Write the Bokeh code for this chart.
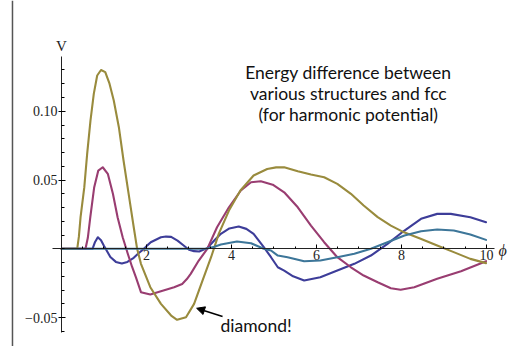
import numpy as np
from bokeh.plotting import figure
from bokeh.models import (LinearAxis, FixedTicker, Range1d, Label, Arrow, NormalHead, Span)
from bokeh.embed import file_html
from bokeh.resources import INLINE

# ---- data ----
blue_x = [0, 0.73, 0.79, 0.855, 0.93, 0.995, 1.15, 1.28, 1.42, 1.55, 1.7, 1.82, 1.94, 2.02, 2.10, 2.34,
          2.46, 2.58, 2.73, 2.86, 3.0, 3.12, 3.24, 3.43, 3.6, 3.75, 3.95, 4.17, 4.35, 4.52, 4.76, 4.93,
          5.09, 5.24, 5.45, 5.71, 6.09, 6.49, 6.89, 7.28, 7.67, 8.07, 8.46, 8.84, 9.16, 9.62, 9.99]
blue_y = [0, 0, 0.005, 0.0084, 0.0062, 0.0024, -0.006, -0.0095, -0.0107, -0.0095, -0.0065, -0.003, 0,
          0.0025, 0.0048, 0.0084, 0.0089, 0.0087, 0.006, 0.0028, -0.0007, -0.0017, -0.002, 0.0005, 0.0062,
          0.0109, 0.0148, 0.0162, 0.0145, 0.0109, 0.0012, -0.0061, -0.0134, -0.0158, -0.020, -0.023,
          -0.0206, -0.0158, -0.0109, -0.0049, 0.0036, 0.0133, 0.0218, 0.0254, 0.0254, 0.023, 0.0193]

magenta_x = [0, 0.565, 0.62, 0.678, 0.77, 0.866, 0.97, 1.09, 1.21, 1.32, 1.44, 1.56, 1.66, 1.75, 1.87,
             2.09, 2.34, 2.65, 2.84, 2.95, 3.04, 3.23, 3.43, 3.66, 3.94, 4.22, 4.46, 4.69, 4.97, 5.24,
             5.56, 5.87, 6.18, 6.49, 6.81, 7.11, 7.44, 7.75, 7.98, 8.30, 8.84, 9.40, 9.99]
magenta_y = [0, 0, 0.008, 0.023, 0.0448, 0.0569, 0.0593, 0.0545, 0.040, 0.023, 0.0084, -0.0036,
             -0.013, -0.0206, -0.0315, -0.0332, -0.0308, -0.0279, -0.0255, -0.022, -0.0182, -0.0085, 0,
             0.0157, 0.0302, 0.0424, 0.0484, 0.0491, 0.0466, 0.0411, 0.0302, 0.0169, 0.0048, -0.0061,
             -0.0134, -0.0194, -0.0243, -0.0286, -0.0298, -0.0279, -0.0218, -0.0163, -0.009]

olive_x = [0, 0.37, 0.41, 0.449, 0.537, 0.604, 0.682, 0.76, 0.84, 0.93, 1.03, 1.13, 1.23, 1.35, 1.46,
           1.58, 1.70, 1.78, 1.87, 2.09, 2.34, 2.58, 2.72, 2.93, 3.12, 3.32, 3.52, 3.70, 3.94, 4.21,
           4.52, 4.84, 5.05, 5.24, 5.56, 5.87, 6.18, 6.49, 6.81, 7.11, 7.44, 7.75, 8.06, 8.45, 8.84,
           9.23, 9.62, 9.99]
olive_y = [0, 0, 0.009, 0.023, 0.0448, 0.069, 0.0932, 0.1126, 0.126, 0.130, 0.1284, 0.120, 0.1078,
           0.0884, 0.0642, 0.040, 0.0157, 0, -0.0109, -0.0279, -0.040, -0.0485, -0.0516, -0.0497,
           -0.040, -0.023, -0.0061, 0.0109, 0.0278, 0.0424, 0.0533, 0.058, 0.0592, 0.0593, 0.0564,
           0.054, 0.052, 0.0472, 0.040, 0.0315, 0.023, 0.0169, 0.012, 0.0073, 0.0024, -0.0024,
           -0.0073, -0.0104]

lightblue_x = [0, 3.4, 3.6, 3.75, 4.13, 4.46, 4.76, 4.93, 5.09, 5.32, 5.71, 6.09, 6.49, 6.89, 7.28,
               7.67, 8.07, 8.46, 8.84, 9.23, 9.62, 9.99]
lightblue_y = [0, 0, 0.0015, 0.0031, 0.0053, 0.0041, 0, -0.0012, -0.0049, -0.0061, -0.009, -0.0085,
               -0.0061, -0.0036, 0, 0.0048, 0.0097, 0.0128, 0.014, 0.0133, 0.0104, 0.0065]

x_ticks = [2, 4, 6, 8, 10]
y_ticks = [-0.05, 0.05, 0.10]
y_tick_labels = ["\u22120.05", "0.05", "0.10"]
title_lines = ["Energy difference between", "various structures and fcc", "(for harmonic potential)"]

BLUE = "#3D3D99"
MAGENTA = "#993D71"
OLIVE = "#998B3D"
LIGHTBLUE = "#3D7699"

p = figure(width=510, height=346, output_backend="svg", toolbar_location=None,
           x_axis_location=None, y_axis_location=None, min_border=0,
           x_range=Range1d(-1.435, 10.565), y_range=Range1d(-0.0710, 0.1805))
p.outline_line_color = None
p.grid.visible = False
p.background_fill_color = "white"
p.border_fill_color = "white"

serif = "Liberation Serif"

xa = LinearAxis(fixed_location=0, bounds=(-0.21, 10.19))
xa.ticker = FixedTicker(ticks=x_ticks, minor_ticks=list(np.arange(0.5, 10.01, 0.5)))
xa.major_label_text_font = serif
xa.major_label_text_font_size = "14px"
xa.major_label_text_color = "#222222"
xa.major_tick_in = 4
xa.major_tick_out = 0
xa.minor_tick_in = 2
xa.minor_tick_out = 0
xa.major_label_standoff = 1
xa.axis_line_color = "#222222"
p.add_layout(xa, "below")

ya = LinearAxis(fixed_location=0, bounds=(-0.0606, 0.1398))
ya.ticker = FixedTicker(ticks=y_ticks, minor_ticks=[v / 100 for v in range(-6, 14)])
ya.major_label_overrides = {t: s for t, s in zip(y_ticks, y_tick_labels)}
ya.major_label_text_font = serif
ya.major_label_text_font_size = "14px"
ya.major_label_text_color = "#222222"
ya.major_tick_in = 4
ya.major_tick_out = 3
ya.minor_tick_in = 3
ya.minor_tick_out = 0
ya.major_label_standoff = 1
ya.axis_line_color = "#222222"
p.add_layout(ya, "left")

for xs, ys, c in [(blue_x, blue_y, BLUE), (magenta_x, magenta_y, MAGENTA),
                  (olive_x, olive_y, OLIVE), (lightblue_x, lightblue_y, LIGHTBLUE)]:
    p.line(xs, ys, line_color=c, line_width=2.1, line_join="round", line_cap="round")

# left page border
p.add_layout(Span(location=-1.153, dimension="height", line_color="#555555", line_width=1.5))

p.add_layout(Label(x=0, y=0.1476, text="V", text_font=serif, text_font_size="15px",
                   text_align="center", text_baseline="middle", text_color="#222222"))
p.add_layout(Label(x=10.38, y=-0.001, text="\u03d5", text_font=serif, text_font_size="16px",
                   text_font_style="italic", text_align="center", text_baseline="middle",
                   text_color="#222222"))

for i, line in enumerate(title_lines):
    p.add_layout(Label(x=6.75, y=0.1281 - i * 0.0153, text=line, text_font="Lato",
                       text_font_size="17.5px", text_align="center", text_baseline="middle",
                       text_color="#111111"))

p.add_layout(Label(x=3.74, y=-0.0555, text="diamond!", text_font="Lato", text_font_size="17.5px",
                   text_align="left", text_baseline="middle", text_color="#111111"))
p.add_layout(Arrow(end=NormalHead(size=8, fill_color="black", line_color="black"),
                   x_start=3.79, y_start=-0.0492, x_end=3.18, y_end=-0.0432,
                   line_color="black", line_width=1.5))

open("out.html", "w").write(file_html(p, INLINE))
